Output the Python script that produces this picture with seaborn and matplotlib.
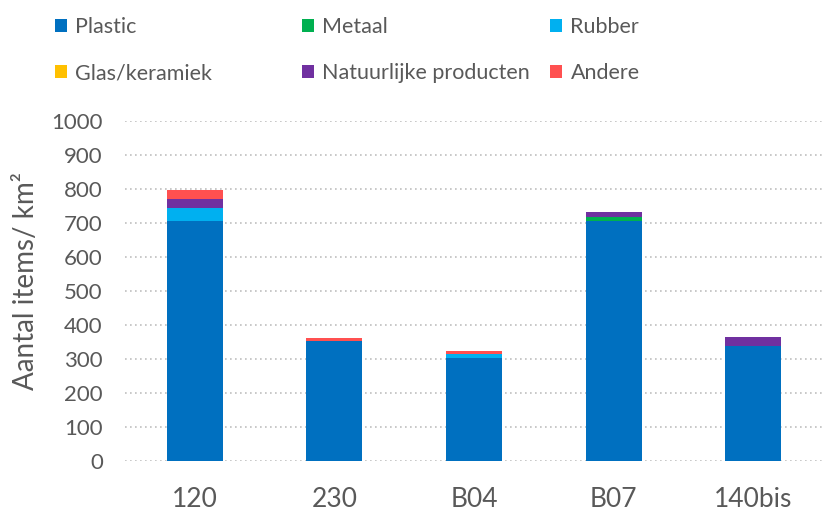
import matplotlib
matplotlib.use("Agg")
import matplotlib.pyplot as plt
from matplotlib.patches import Patch
import numpy as np
import pandas as pd
import seaborn as sns

stations = ["120", "230", "B04", "B07", "140bis"]
plastic = [705, 353, 303, 705, 338]
metaal = [0, 0, 0, 12, 0]
rubber = [38, 0, 12, 0, 0]
glas = [0, 0, 0, 0, 0]
natuurlijk = [27, 0, 0, 14, 26]
andere = [27, 10, 10, 0, 0]

series_names = ["Plastic", "Metaal", "Rubber", "Glas/keramiek",
                "Natuurlijke producten", "Andere"]
series_values = [plastic, metaal, rubber, glas, natuurlijk, andere]
colors = ["#0070C0", "#00B050", "#00B0F0", "#FFC000", "#7030A0", "#FF5050"]

sns.set_theme(style="white")
plt.rcParams["font.family"] = ["Lato", "DejaVu Sans"]

W, H = 823, 515
fig = plt.figure(figsize=(W / 100, H / 100), dpi=100)
ax = fig.add_axes([125 / W, 54 / H, 698 / W, 340 / H])

bottom = np.zeros(len(stations))
for name, vals, col in zip(series_names, series_values, colors):
    df = pd.DataFrame({"station": stations, "value": vals})
    sns.barplot(data=df, x="station", y="value", color=col, width=0.4,
                bottom=bottom, ax=ax, saturation=1, linewidth=0,
                order=stations)
    bottom = bottom + np.array(vals)

ax.set_ylim(0, 1000)
ax.set_xlim(-0.5, 4.5)
ax.set_yticks(range(0, 1001, 100))
ax.yaxis.grid(True, linestyle=(0, (1, 2)), color="#BFBFBF", linewidth=1.2)
ax.set_axisbelow(True)
for s in ax.spines.values():
    s.set_visible(False)
ax.tick_params(axis="y", labelsize=16, labelcolor="#595959", length=0, pad=16)
ax.tick_params(axis="x", labelsize=19, labelcolor="#595959", length=0, pad=19)
ax.set_xlabel("")
ax.set_ylabel("Aantal items/ km²", fontsize=20, color="#595959")
ax.yaxis.set_label_coords(-86 / 698, 0.53)

# legend: two rows of three entries, each entry placed on a fixed grid
col_x = [55, 302, 550]
row_y = [27, 73]
for i, (name, col) in enumerate(zip(series_names, colors)):
    r, c = divmod(i, 3)
    fig.legend([Patch(facecolor=col, edgecolor="none")], [name],
               loc="center left",
               bbox_to_anchor=(col_x[c] / W, 1 - row_y[r] / H),
               frameon=False, fontsize=15.5, labelcolor="#595959",
               handlelength=0.55, handleheight=0.55, handletextpad=0.4,
               borderpad=0, borderaxespad=0)

fig.savefig("out.png", dpi=100)
